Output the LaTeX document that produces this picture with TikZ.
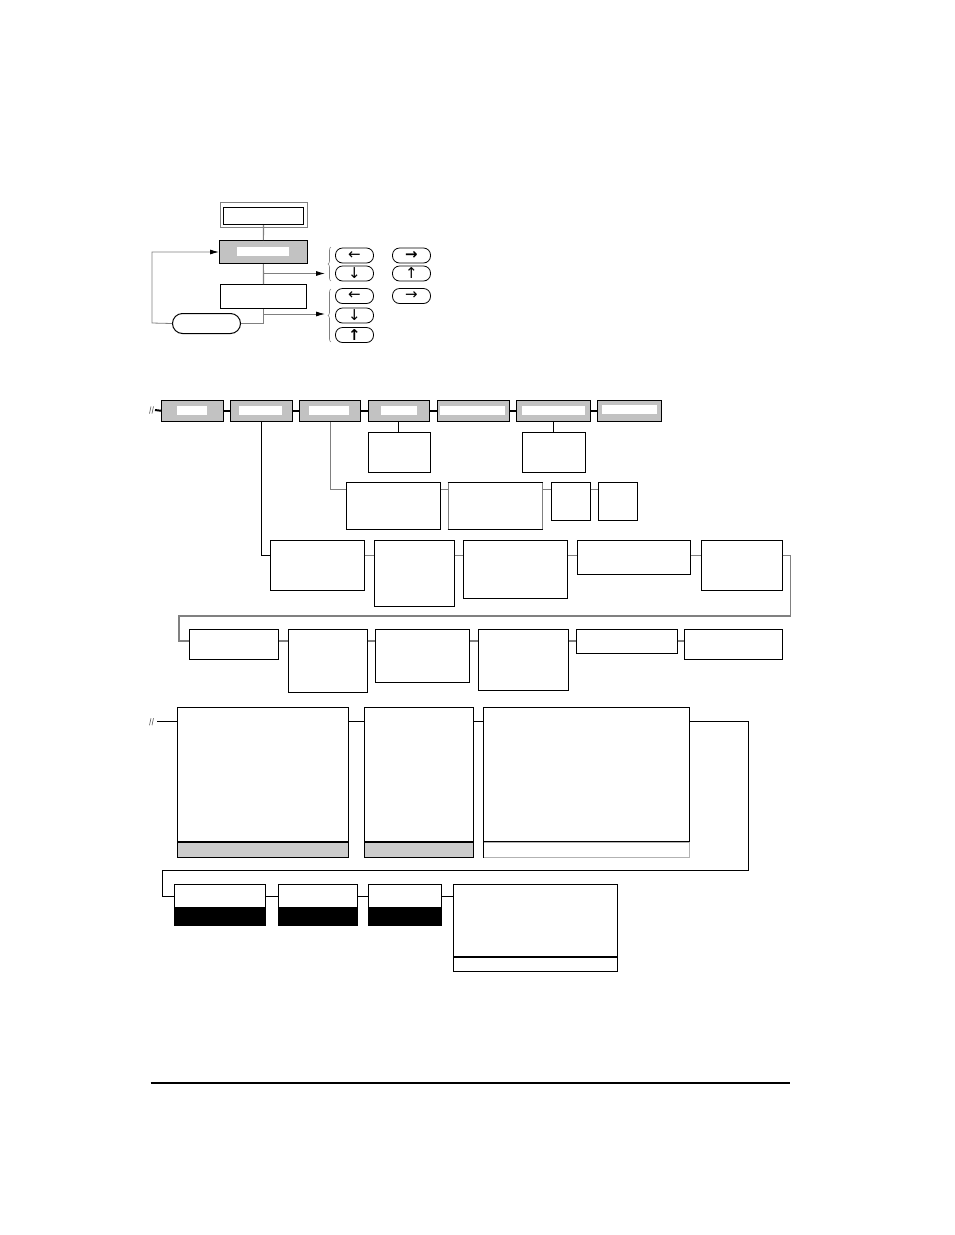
\documentclass[tikz,border=0pt]{standalone}
\usepackage{tikz}
\usetikzlibrary{arrows.meta,decorations.pathreplacing}
\usepackage{xcolor}
\usepackage{fontspec}
\newfontfamily\fleches{DejaVu Sans}
\definecolor{gris}{gray}{0.76}
\definecolor{bande}{gray}{0.80}

\begin{document}
\begin{tikzpicture}[x=1pt,y=-1pt,
    boite/.style={draw,line width=1pt,rectangle,inner sep=0pt,anchor=north west},
    menu/.style={boite,fill=gris},
    blanc/.style={fill=white,inner sep=0pt,anchor=north west},
    touche/.style={draw,line width=0.8pt,rounded corners=7pt,minimum width=38pt,minimum height=15pt,inner sep=0pt,font=\fleches\fontsize{15}{15}\selectfont},
    lien/.style={line width=1pt},
    liengris/.style={line width=1.2pt,color=gray},
    fleche/.style={line width=0.8pt,color=gray,-{Latex[length=9pt,width=5pt,color=black]}}]
      \useasboundingbox (0,0) rectangle (954,1235);

      % Legende
      \node[boite,draw=gray,line width=0.6pt,minimum width=86.7,minimum height=25] (cadre) at (220,202) {};
      \node[boite,minimum width=80,minimum height=17] (titre) at (223,207) {};
      \node[menu,minimum width=87.7,minimum height=23] (choix) at (219,240) {};
      \node[blanc,minimum width=52,minimum height=9] (choixt) at (237,247) {};
      \node[boite,minimum width=86,minimum height=24] (edit) at (220,284) {};
      \node[boite,rounded corners=10pt,minimum width=68,minimum height=20] (sortie) at (172,313) {};

      \coordinate (retour) at (152,323);
      \coordinate (f1) at (263,273.5);
      \coordinate (f1b) at (325,273.5);
      \coordinate (f2) at (263,314);
      \coordinate (f2b) at (325,314);

      \draw[liengris] (titre.south) -- (choix.north);
      \draw[liengris] (choix.south) -- (edit.north);
      \draw[liengris] (edit.south) |- (sortie.east);
      \draw[fleche] (sortie.west) -- (retour) |- (choix.west);
      \draw[fleche] (f1) -- (f1b);
      \draw[fleche] (f2) -- (f2b);

      % Touches
      \draw[decorate,decoration={brace,amplitude=3pt},gray,line width=0.6pt] (331,281) -- (331,247);
      \draw[decorate,decoration={brace,amplitude=3pt},gray,line width=0.6pt] (331,342) -- (331,289);
      \node[touche] (k1) at (354.5,255.5) {←};
      \node[touche] (k2) at (354.5,273.5) {↓};
      \node[touche] (k3) at (354.5,296) {←};
      \node[touche] (k4) at (354.5,315.5) {↓};
      \node[touche] (k5) at (354.5,335) {\bfseries ↑};
      \node[touche] (k6) at (411.5,255.5) {\bfseries →};
      \node[touche] (k7) at (411.5,273.5) {↑};
      \node[touche] (k8) at (411.5,296) {→};

      % Ligne 1
      \node[menu,minimum width=61.8,minimum height=21.5] (b1) at (161,399.5) {};
      \node[blanc,minimum width=30.5,minimum height=9] (b1t) at (176.5,406) {};
      \node[menu,minimum width=61.2,minimum height=21.5] (b2) at (230.3,399.5) {};
      \node[blanc,minimum width=43.3,minimum height=9] (b2t) at (238.7,406) {};
      \node[menu,minimum width=61.4,minimum height=21.5] (b3) at (299,399.5) {};
      \node[blanc,minimum width=40.6,minimum height=9] (b3t) at (308.4,406) {};
      \node[menu,minimum width=61,minimum height=21.5] (b4) at (367.5,399.5) {};
      \node[blanc,minimum width=35.5,minimum height=9] (b4t) at (381,406) {};
      \node[menu,minimum width=72.7,minimum height=21.5] (b5) at (436.5,399.5) {};
      \node[blanc,minimum width=64.3,minimum height=9] (b5t) at (440.2,406) {};
      \node[menu,minimum width=73.6,minimum height=21.5] (b6) at (516,399.5) {};
      \node[blanc,minimum width=63,minimum height=9] (b6t) at (521.5,406) {};
      \node[menu,minimum width=63.6,minimum height=21.5] (b7) at (597,399.5) {};
      \node[blanc,minimum width=55,minimum height=9] (b7t) at (601.5,405) {};

      \coordinate (coupe1) at (155,410);
      \draw[gray!70!black,line width=0.6pt] (149.5,413.5) -- (151,406.5) (152,413.5) -- (153.5,406.5);
      \draw[line width=2pt] (coupe1) -- (b1.west);
      \foreach \a/\b in {b1/b2,b2/b3,b3/b4,b4/b5,b5/b6,b6/b7}
        \draw[line width=2pt] (\a.east) -- (\b.west);

      % Sous-menus
      \node[boite,minimum width=62.2,minimum height=40.2] (c4) at (367.5,431.6) {};
      \node[boite,minimum width=62.6,minimum height=40.2] (c6) at (522,431.6) {};
      \draw[lien] (b4.south) -- (b4.south |- c4.north);
      \draw[lien] (b6.south) -- (b6.south |- c6.north);

      \node[boite,minimum width=94,minimum height=46.3] (s1) at (346,482.3) {};
      \node[boite,draw=gray,minimum width=94,minimum height=46.3] (s2) at (447.6,482.3) {};
      \draw[lien] (s2.north west) -- (s2.north east) (s2.south west) -- (s2.south east);
      \node[boite,minimum width=38.2,minimum height=37.7] (s3) at (551.4,482.3) {};
      \node[boite,minimum width=39,minimum height=37.7] (s4) at (598,482.3) {};
      \draw[liengris] (b3.south) |- ([yshift=-7.4pt]s1.north west);
      \foreach \a/\b in {s1/s2,s2/s3,s3/s4}
        \draw[liengris] ([yshift=-7.4pt]\a.north east) -- ([yshift=-7.4pt]\b.north west);

      % Ligne 2
      \node[boite,minimum width=94,minimum height=50] (r2a) at (270.3,540.3) {};
      \node[boite,minimum width=79.2,minimum height=65.5] (r2b) at (374.3,540.3) {};
      \node[boite,minimum width=104,minimum height=57.9] (r2c) at (463.2,540.3) {};
      \node[boite,minimum width=113.6,minimum height=33.4] (r2d) at (576.8,540.3) {};
      \node[boite,minimum width=80.9,minimum height=50] (r2e) at (700.8,540.3) {};
      \draw[lien] (b2.south) |- ([yshift=-15.5pt]r2a.north west);
      \foreach \a/\b in {r2a/r2b,r2b/r2c,r2c/r2d,r2d/r2e}
        \draw[liengris] ([yshift=-15.5pt]\a.north east) -- ([yshift=-15.5pt]\b.north west);

      % Ligne 3
      \node[boite,minimum width=89,minimum height=30] (r3a) at (189.3,629.3) {};
      \node[boite,minimum width=79,minimum height=63] (r3b) at (288.3,629.3) {};
      \node[boite,minimum width=94,minimum height=53] (r3c) at (375.3,629.3) {};
      \node[boite,minimum width=90,minimum height=60.7] (r3d) at (478.3,629.3) {};
      \node[boite,minimum width=100.7,minimum height=24] (r3e) at (576,629.3) {};
      \node[boite,minimum width=97.7,minimum height=30] (r3f) at (684,629.3) {};
      \coordinate (t2) at (790.5,616);
      \coordinate (t3) at (179,616);
      \draw[liengris] ([yshift=-15.5pt]r2e.north east) -| (t2) -- (t3) |- ([yshift=-11.7pt]r3a.north west);
      \foreach \a/\b in {r3a/r3b,r3b/r3c,r3c/r3d,r3d/r3e,r3e/r3f}
        \draw[liengris] ([yshift=-11.7pt]\a.north east) -- ([yshift=-11.7pt]\b.north west);

      % Grands ecrans
      \node[boite,minimum width=171,minimum height=133.4] (g1) at (177.3,707.3) {};
      \node[boite,fill=bande,minimum width=171,minimum height=15.3] (g1b) at (g1.south west) {};
      \node[boite,minimum width=109,minimum height=133.4] (g2) at (364.3,707.3) {};
      \node[boite,fill=bande,minimum width=109,minimum height=15.3] (g2b) at (g2.south west) {};
      \node[boite,minimum width=206,minimum height=133.4] (g3) at (483.3,707.3) {};
      \node[boite,draw=gray!60,minimum width=206,minimum height=15] (g3b) at (g3.south west) {};
      \draw[lien] (g3b.north west) -- (g3b.south west);

      \coordinate (coupe2) at (157,721.7);
      \draw[gray!70!black,line width=0.6pt] (149.5,725.2) -- (151,718.2) (152,725.2) -- (153.5,718.2);
      \draw[lien] (coupe2) -- ([yshift=-14.4pt]g1.north west);
      \foreach \a/\b in {g1/g2,g2/g3}
        \draw[lien] ([yshift=-14.4pt]\a.north east) -- ([yshift=-14.4pt]\b.north west);

      % Ligne 4
      \node[boite,minimum width=91,minimum height=22.4] (r4a) at (174,884.3) {};
      \node[boite,fill=black,minimum width=91,minimum height=17.3] (r4an) at (r4a.south west) {};
      \node[boite,minimum width=78.4,minimum height=22.4] (r4b) at (278.3,884.3) {};
      \node[boite,fill=black,minimum width=78.4,minimum height=17.3] (r4bn) at (r4b.south west) {};
      \node[boite,minimum width=72.4,minimum height=22.4] (r4c) at (368.3,884.3) {};
      \node[boite,fill=black,minimum width=72.4,minimum height=17.3] (r4cn) at (r4c.south west) {};
      \node[boite,minimum width=164.6,minimum height=71.4] (r4d) at (452.7,884.3) {};
      \node[boite,minimum width=164.6,minimum height=14.3] (r4db) at (r4d.south west) {};
      \coordinate (u1) at (748.3,870.7);
      \coordinate (u2) at (162.5,870.7);
      \draw[lien] ([yshift=-14.4pt]g3.north east) -| (u1) -- (u2) |- ([yshift=-12.4pt]r4a.north west);
      \foreach \a/\b in {r4a/r4b,r4b/r4c,r4c/r4d}
        \draw[lien] ([yshift=-12.4pt]\a.north east) -- ([yshift=-12.4pt]\b.north west);

      % Pied de page
      \draw[line width=2.2pt] (150.5,1082.6) -- (790,1082.6);
    \end{tikzpicture}
\end{document}
